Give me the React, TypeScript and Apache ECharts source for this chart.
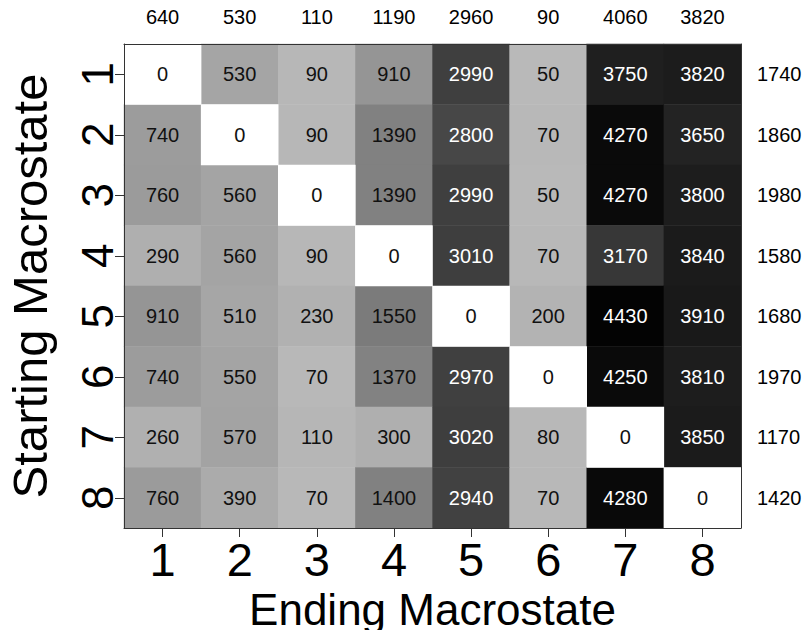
import React, { useEffect, useRef } from "react";
import * as echarts from "echarts";

const endStates = ["1", "2", "3", "4", "5", "6", "7", "8"];
const startStates = ["1", "2", "3", "4", "5", "6", "7", "8"];
const topLabels = ["640", "530", "110", "1190", "2960", "90", "4060", "3820"];
const rightLabels = ["1740", "1860", "1980", "1580", "1680", "1970", "1170", "1420"];

const row1 = [0, 530, 90, 910, 2990, 50, 3750, 3820];
const row2 = [740, 0, 90, 1390, 2800, 70, 4270, 3650];
const row3 = [760, 560, 0, 1390, 2990, 50, 4270, 3800];
const row4 = [290, 560, 90, 0, 3010, 70, 3170, 3840];
const row5 = [910, 510, 230, 1550, 0, 200, 4430, 3910];
const row6 = [740, 550, 70, 1370, 2970, 0, 4250, 3810];
const row7 = [260, 570, 110, 300, 3020, 80, 0, 3850];
const row8 = [760, 390, 70, 1400, 2940, 70, 4280, 0];
const counts = [row1, row2, row3, row4, row5, row6, row7, row8];

const FONT = "'Liberation Sans', Arial, Helvetica, sans-serif";

export default function App() {
  const ref = useRef<HTMLDivElement>(null);
  useEffect(() => {
    if (!ref.current) return;
    const chart = echarts.init(ref.current, undefined, { renderer: "svg" });
    const nonZero: any[] = [];
    const zeros: any[] = [];
    counts.forEach((row, r) => {
      row.forEach((v, c) => {
        const item = {
          value: [c, r, v],
          label: { color: v > 2000 ? "#ffffff" : "#111111" },
        };
        if (v === 0) zeros.push(item);
        else nonZero.push(item);
      });
    });
    const axisLine = { show: true, lineStyle: { color: "#333333", width: 1 } };
    chart.setOption({
      animation: false,
      textStyle: { fontFamily: FONT },
      grid: {
        left: 124,
        right: 68,
        top: 44,
        bottom: 102,
        containLabel: false,
        outerBoundsMode: "none",
      },
      visualMap: [
        {
          show: false,
          type: "continuous",
          seriesIndex: 0,
          dimension: 2,
          min: 0,
          max: 4500,
          inRange: { color: ["#bbbbbb", "#000000"] },
        },
        {
          show: false,
          type: "continuous",
          seriesIndex: 1,
          dimension: 2,
          min: 0,
          max: 1,
          inRange: { color: ["#ffffff", "#ffffff"] },
        },
      ],
      xAxis: [
        {
          type: "category",
          data: endStates,
          position: "bottom",
          z: 10,
          axisLine,
          axisTick: { show: true, alignWithLabel: true, length: 9, lineStyle: { color: "#333" } },
          axisLabel: { fontSize: 47, color: "#000", margin: 8, fontFamily: FONT },
          name: "Ending Macrostate",
          nameLocation: "middle",
          nameGap: 32,
          nameTextStyle: { fontSize: 44, color: "#000", fontFamily: FONT },
          splitLine: { show: false },
        },
        {
          type: "category",
          data: topLabels,
          position: "top",
          z: 10,
          axisLine,
          axisTick: { show: false },
          axisLabel: { fontSize: 20, color: "#000", margin: 17, fontFamily: FONT },
          splitLine: { show: false },
        },
      ],
      yAxis: [
        {
          type: "category",
          data: startStates,
          inverse: true,
          position: "left",
          z: 10,
          axisLine,
          axisTick: { show: true, alignWithLabel: true, length: 9, lineStyle: { color: "#333" } },
          axisLabel: { fontSize: 44, color: "#000", margin: 5, rotate: 90, fontFamily: FONT },
          name: "Starting Macrostate",
          nameLocation: "middle",
          nameGap: 70,
          nameRotate: 90,
          nameTextStyle: { fontSize: 49, color: "#000", fontFamily: FONT },
          splitLine: { show: false },
        },
        {
          type: "category",
          data: rightLabels,
          inverse: true,
          position: "right",
          z: 10,
          axisLine,
          axisTick: { show: false },
          axisLabel: { fontSize: 20, color: "#000", margin: 16, fontFamily: FONT },
          splitLine: { show: false },
        },
      ],
      series: [
        {
          type: "heatmap",
          xAxisIndex: 0,
          yAxisIndex: 0,
          data: nonZero,
          label: { show: true, fontSize: 20, fontFamily: FONT },
          itemStyle: { borderWidth: 0 },
          emphasis: { disabled: true },
        },
        {
          type: "heatmap",
          xAxisIndex: 0,
          yAxisIndex: 0,
          data: zeros,
          label: { show: true, fontSize: 20, fontFamily: FONT },
          itemStyle: { borderWidth: 0 },
          emphasis: { disabled: true },
        },
      ],
    });
    return () => chart.dispose();
  }, []);
  return (
    <div
      ref={ref}
      style={{ position: "fixed", left: 0, top: 0, width: 809, height: 630, background: "#fff" }}
    />
  );
}
